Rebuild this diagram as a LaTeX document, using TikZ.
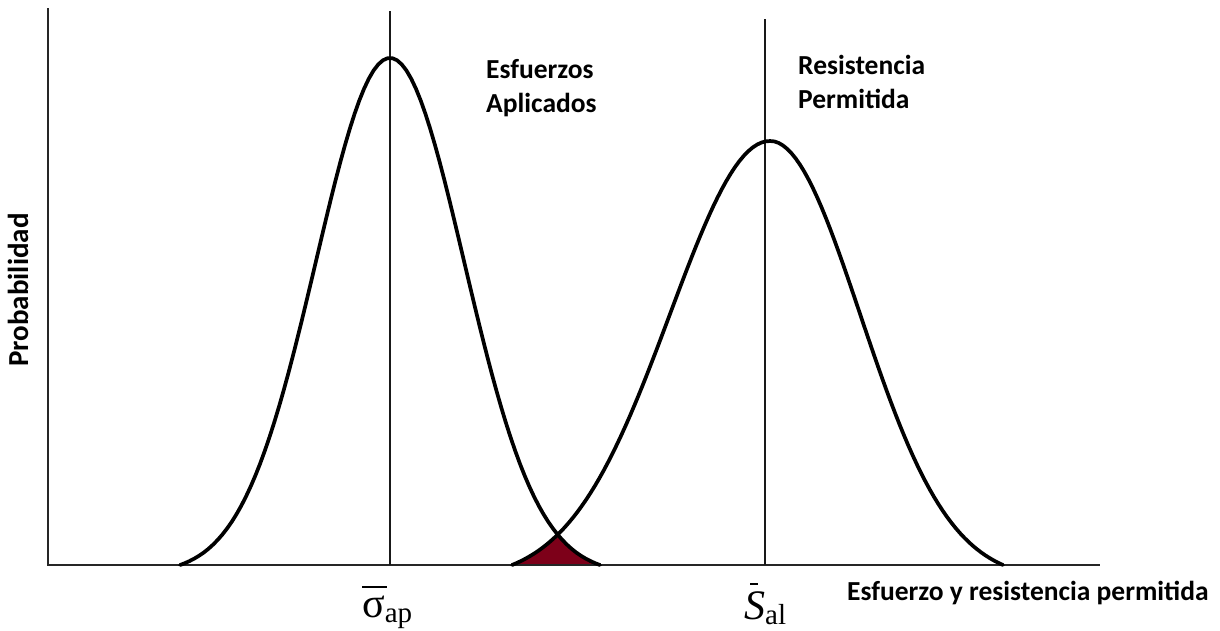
\documentclass[tikz,border=0pt]{standalone}
\usepackage{fontspec}
\setmainfont{Carlito}
\newfontfamily\tms{Liberation Serif}
\definecolor{areared}{RGB}{125,0,25}
\begin{document}
\begin{tikzpicture}[x=1pt,y=-1pt,
  lbl/.style={font=\fontsize{27.5}{34}\selectfont\bfseries, inner sep=0pt, align=left},
  mlbl/.style={font=\tms\fontsize{42}{42}\selectfont, inner sep=0pt, anchor=base west},
  curve/.style={line width=3.7pt, line join=round, line cap=round},
  axisline/.style={line width=1.8pt, draw=black!85},
  guide/.style={line width=1.6pt, draw=black!90}]
\useasboundingbox (0,0) rectangle (1220,630);
% coordinates
\coordinate (o) at (48,565);
\coordinate (ytop) at (48,8);
\coordinate (xend) at (1100,565);
\coordinate (m1top) at (390,11);
\coordinate (m1bot) at (390,565);
\coordinate (m2top) at (765,19);
\coordinate (m2bot) at (765,565);
% red overlap area
\begin{scope}
  \clip plot[domain=512:770, samples=60] (\x,{565-424*(exp(-0.5*((\x-770)/100)^2)-0.03585)/0.96415}) -- (770,565) -- cycle;
  \fill[areared] plot[domain=180:600, samples=90] (\x,{565-507*(exp(-0.5*((\x-390)/74)^2)-0.01783)/0.98217}) -- cycle;
\end{scope}
% axes and guides
\draw[axisline] (ytop) -- (o) -- (xend);
\draw[guide] (m1top) -- (m1bot);
\draw[guide] (m2top) -- (m2bot);
% curves
\draw[curve] plot[domain=180:600, samples=90] (\x,{565-507*(exp(-0.5*((\x-390)/74)^2)-0.01783)/0.98217});
\draw[curve] plot[domain=512:770, samples=60] (\x,{565-424*(exp(-0.5*((\x-770)/100)^2)-0.03585)/0.96415})
  -- plot[domain=770:1003, samples=55] (\x,{565-424*(exp(-0.5*((\x-770)/90)^2)-0.03505)/0.96495});
% labels
\node[lbl, anchor=base west] (esf) at (486,112) {Esfuerzos\\Aplicados};
\node[lbl, anchor=base west] (res) at (798,108) {Resistencia\\Permitida};
\node[lbl, anchor=base west] (xlab) at (847,600) {Esfuerzo y resistencia permitida};
\node[lbl, font=\fontsize{29}{34}\selectfont\bfseries, rotate=90, anchor=base] (ylab) at (28,290) {Probabilidad};
\node[mlbl] (sig) at (362,617) {\rlap{\rule[29pt]{25pt}{1.8pt}}σ\raisebox{-5pt}{\fontsize{29}{29}\selectfont ap}};
\node[mlbl] (sal) at (744,619) {\rlap{\hspace{6pt}\rule[34pt]{8pt}{1.8pt}}\textit{S}\raisebox{-5pt}{\fontsize{29}{29}\selectfont al}};
\end{tikzpicture}
\end{document}
